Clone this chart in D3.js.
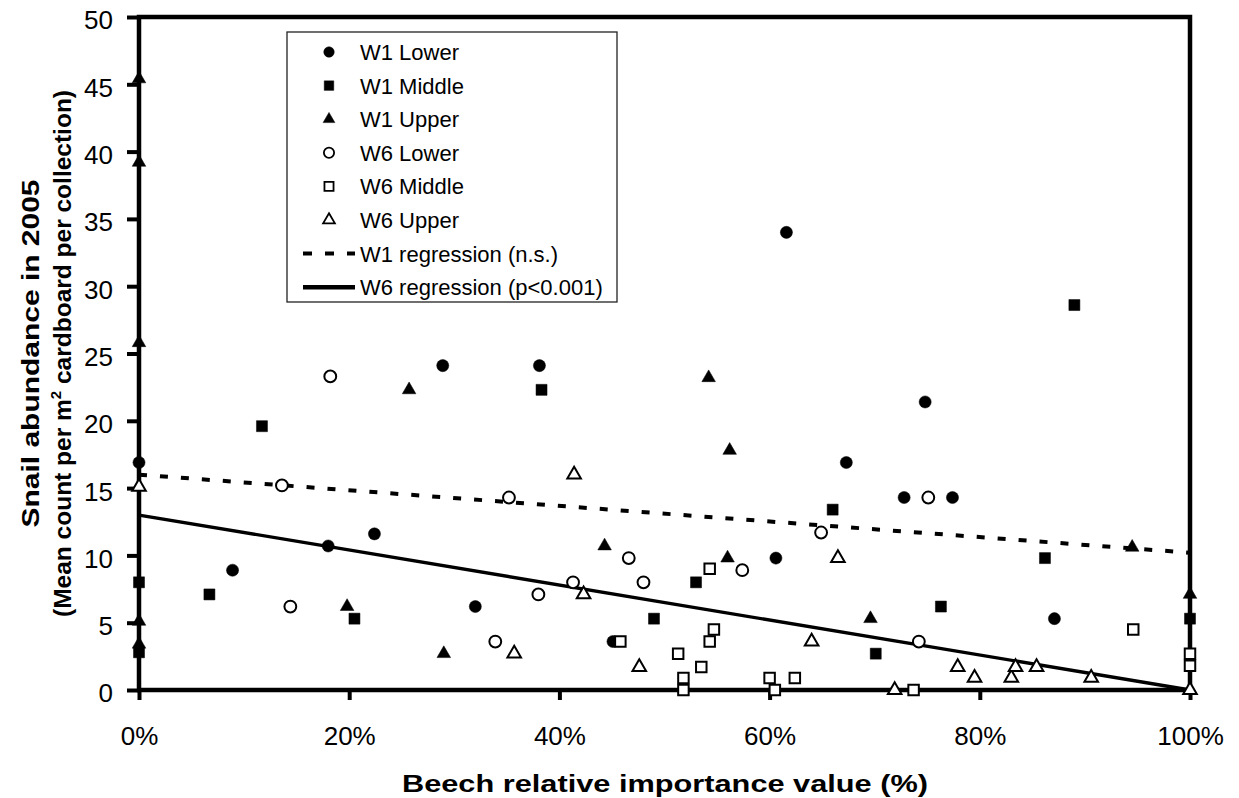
<!DOCTYPE html>
<html>
<head>
<meta charset="utf-8">
<script src="https://cdn.jsdelivr.net/npm/d3@7"></script>
<style>
  body { margin: 0; background: #fff; }
  svg { display: block; }
  text { font-family: "Liberation Sans", Arial, sans-serif; fill: #000; }
</style>
</head>
<body>
<svg id="chart" width="1239" height="798"></svg>
<script>
// Snail abundance vs. beech relative importance value, W1 and W6 plots.
const xTicks = [0, 20, 40, 60, 80, 100];
const yTicks = [0, 5, 10, 15, 20, 25, 30, 35, 40, 45, 50];

// [beech %, mean count]
const w1Lower = [[0, 16.9], [8.9, 8.9], [18.0, 10.7], [22.4, 11.6], [28.9, 24.1], [38.1, 24.1],
  [32.0, 6.2], [45.1, 3.6], [60.6, 9.8], [61.6, 34.0], [67.3, 16.9], [72.8, 14.3],
  [74.8, 21.4], [77.4, 14.3], [87.1, 5.3]];
const w1Middle = [[0, 8.0], [0, 2.8], [6.7, 7.1], [11.7, 19.6], [20.5, 5.3], [38.3, 22.3],
  [49.0, 5.3], [53.0, 8.0], [66.0, 13.4], [70.1, 2.7], [76.3, 6.2], [86.2, 9.8],
  [89.0, 28.6], [100, 5.3]];
const w1Upper = [[0, 45.4], [0, 39.2], [0, 25.8], [0, 5.1], [0, 3.4], [19.8, 6.2],
  [25.7, 22.3], [29.0, 2.7], [44.3, 10.7], [54.2, 23.2], [56.0, 9.8], [56.2, 17.8],
  [69.6, 5.3], [94.5, 10.6], [100, 7.1]];
const w6Lower = [[13.6, 15.2], [14.4, 6.2], [18.2, 23.3], [33.9, 3.6], [35.2, 14.3],
  [38.0, 7.1], [41.3, 8.0], [46.6, 9.8], [48.0, 8.0], [57.4, 8.9], [64.9, 11.7],
  [74.2, 3.6], [75.1, 14.3]];
const w6Middle = [[45.8, 3.6], [51.3, 2.7], [51.8, 0.9], [51.8, 0.0], [53.5, 1.7],
  [54.3, 9.0], [54.3, 3.6], [54.7, 4.5], [60.0, 0.9], [60.5, 0.0], [62.4, 0.9],
  [73.7, 0.0], [94.6, 4.5], [100, 2.7], [100, 1.8]];
const w6Upper = [[0, 15.1], [35.7, 2.7], [41.4, 16.0], [42.3, 7.1], [47.6, 1.7],
  [64.0, 3.6], [66.5, 9.8], [71.9, 0.0], [77.9, 1.7], [79.5, 0.9], [83.0, 0.9],
  [83.4, 1.7], [85.4, 1.7], [90.6, 0.9], [100, 0.0]];

// regression end points [x, y]
const w1Regression = [[0, 16.0], [100, 10.2]];
const w6Regression = [[0, 13.0], [100, 0.0]];

const legendLabels = ['W1 Lower', 'W1 Middle', 'W1 Upper', 'W6 Lower', 'W6 Middle', 'W6 Upper',
  'W1 regression (n.s.)', 'W6 regression (p<0.001)'];

const svg = d3.select('#chart');
const x = d3.scaleLinear().domain([0, 100]).range([139, 1190]);
const y = d3.scaleLinear().domain([0, 50]).range([690, 17]);

/* ---------------- axes ---------------- */

const yAxis = svg.append('g').attr('transform', `translate(${x(0)},0)`)
  .call(d3.axisLeft(y).tickValues(yTicks).tickSize(12).tickPadding(14).tickFormat(d => d));
const xAxis = svg.append('g').attr('transform', `translate(0,${y(0)})`)
  .call(d3.axisBottom(x).tickValues(xTicks).tickSize(10).tickPadding(27).tickFormat(d => d + '%'));

for (const ax of [yAxis, xAxis]) {
  ax.select('.domain').remove();
  ax.selectAll('.tick line').attr('stroke', '#000').attr('stroke-width', 4);
  ax.selectAll('.tick text').attr('font-size', 26).attr('fill', '#000')
    .style('font-family', '"Liberation Sans", Arial, sans-serif');
}
yAxis.selectAll('.tick text').attr('dy', '0.46em');

svg.append('rect')
  .attr('x', x(0)).attr('y', y(50))
  .attr('width', x(100) - x(0)).attr('height', y(0) - y(50))
  .attr('fill', 'none').attr('stroke', '#000').attr('stroke-width', 4.5);

/* ---------------- titles ---------------- */

// the source titles are set in a wide bold face, so stretch them to the same extent
svg.append('text')
  .attr('x', 402).attr('y', 792)
  .attr('font-size', 24).attr('font-weight', 700)
  .attr('textLength', 526).attr('lengthAdjust', 'spacingAndGlyphs')
  .text('Beech relative importance value (%)');

const yMid = (y(0) + y(50)) / 2;
svg.append('text')
  .attr('transform', `translate(39,${yMid + 174}) rotate(-90)`)
  .attr('font-size', 24).attr('font-weight', 700)
  .attr('textLength', 348).attr('lengthAdjust', 'spacingAndGlyphs')
  .text('Snail abundance in 2005');

const l2 = svg.append('text')
  .attr('transform', `translate(71,${yMid}) rotate(-90)`)
  .attr('text-anchor', 'middle').attr('font-size', 24.5).attr('font-weight', 700);
l2.append('tspan').text('(Mean count per m');
l2.append('tspan').attr('font-size', 15).attr('dy', -10).text('2');
l2.append('tspan').attr('dy', 10).text(' cardboard per collection)');

/* ---------------- regression lines ---------------- */

const line = d3.line().x(d => x(d[0])).y(d => y(d[1]));
svg.append('path').datum(w1Regression).attr('d', line)
  .attr('fill', 'none').attr('stroke', '#000').attr('stroke-width', 4)
  .attr('stroke-dasharray', '8,13');
svg.append('path').datum(w6Regression).attr('d', line)
  .attr('fill', 'none').attr('stroke', '#000').attr('stroke-width', 3.3);

/* ---------------- points ---------------- */

const series = [
  { data: w1Lower, type: d3.symbolCircle, size: 115, open: false },
  { data: w1Middle, type: d3.symbolSquare, size: 121, open: false },
  { data: w1Upper, type: d3.symbolTriangle, size: 80, open: false },
  { data: w6Lower, type: d3.symbolCircle, size: 110, open: true },
  { data: w6Middle, type: d3.symbolSquare, size: 110, open: true },
  { data: w6Upper, type: d3.symbolTriangle, size: 80, open: true },
];

const pts = svg.append('g');
for (const s of series) {
  pts.append('g').selectAll('path').data(s.data).join('path')
    .attr('transform', d => `translate(${x(d[0])},${y(d[1])})`)
    .attr('d', d3.symbol(s.type, s.size))
    .attr('fill', s.open ? '#fff' : '#000')
    .attr('stroke', '#000')
    .attr('stroke-width', s.open ? 2 : 0.5);
}

/* ---------------- legend ---------------- */

const lg = svg.append('g');
lg.append('rect').attr('x', 287).attr('y', 32).attr('width', 330).attr('height', 270)
  .attr('fill', '#fff').attr('stroke', '#222').attr('stroke-width', 1.3);

const rowY = i => 52 + i * 33.6;
series.forEach((s, i) => {
  lg.append('path')
    .attr('transform', `translate(329,${rowY(i)})`)
    .attr('d', d3.symbol(s.type, s.size * 0.75))
    .attr('fill', s.open ? '#fff' : '#000')
    .attr('stroke', '#000').attr('stroke-width', s.open ? 1.8 : 0.5);
});
lg.append('line').attr('x1', 303).attr('x2', 355).attr('y1', rowY(6)).attr('y2', rowY(6))
  .attr('stroke', '#000').attr('stroke-width', 4).attr('stroke-dasharray', '9,13');
lg.append('line').attr('x1', 303).attr('x2', 355).attr('y1', rowY(7)).attr('y2', rowY(7))
  .attr('stroke', '#000').attr('stroke-width', 4.5);

lg.selectAll('text.lab').data(legendLabels).join('text')
  .attr('class', 'lab')
  .attr('x', 360).attr('y', (d, i) => rowY(i)).attr('dy', '0.36em')
  .attr('font-size', 22)
  .text(d => d);
</script>
</body>
</html>
